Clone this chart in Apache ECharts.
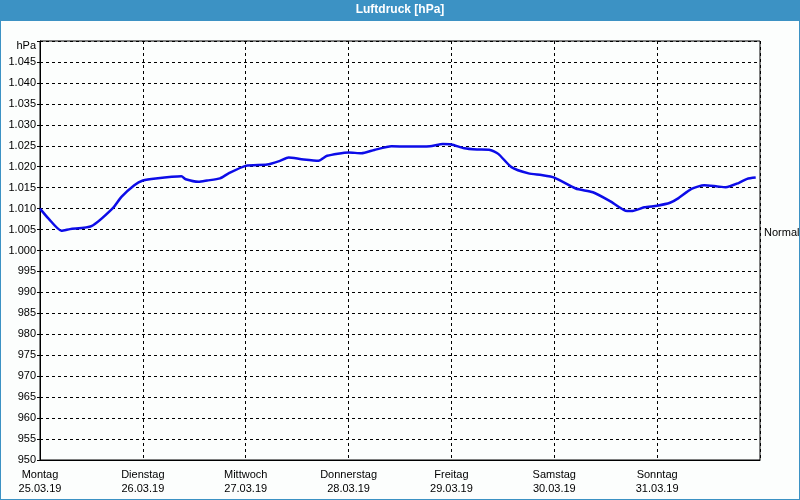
<!DOCTYPE html>
<html>
<head>
<meta charset="utf-8">
<script src="https://cdn.jsdelivr.net/npm/echarts@6/dist/echarts.min.js"></script>
<style>html,body{margin:0;padding:0;background:#fcfefd}#c{width:800px;height:500px}</style>
</head>
<body>
<div id="c"></div>
<script>
const chartTitle = 'Luftdruck [hPa]';
const dayNames = ['Montag','Dienstag','Mittwoch','Donnerstag','Freitag','Samstag','Sonntag'];
const dayDates = ['25.03.19','26.03.19','27.03.19','28.03.19','29.03.19','30.03.19','31.03.19'];
const hours = [0,2,5,7,12,17,19,22,24,27,33,34,37,39,42,44,48,53,56,58,61,65,67,72,75,78,82,86,91,94,96,99,102,105,107,110,114,117,120,125,129,133,137,138,141,144,147,149,152,155,158,160,163,165,167];
const pressure = [1010.0,1007.6,1004.7,1005.1,1005.8,1010.1,1012.8,1015.6,1016.7,1017.2,1017.7,1017.0,1016.4,1016.7,1017.2,1018.4,1020.2,1020.5,1021.4,1022.2,1021.8,1021.4,1022.6,1023.4,1023.2,1024.0,1024.9,1024.8,1024.9,1025.4,1025.3,1024.4,1024.1,1024.0,1023.0,1019.9,1018.4,1018.0,1017.4,1014.8,1013.9,1011.8,1009.4,1009.4,1010.3,1010.7,1011.4,1012.5,1014.7,1015.6,1015.3,1015.1,1016.1,1017.1,1017.4];
const normalValue = 1004.2;
const normalLabel = 'Normal';
const yMin = 950, yMax = 1050, yStep = 5;

const FONT = "'Liberation Sans', Arial, sans-serif";
const chart = echarts.init(document.getElementById('c'), null, {renderer: 'canvas'});
const data = hours.map((h, i) => [h, pressure[i]]);

chart.setOption({
  backgroundColor: '#fcfefd',
  animation: false,
  graphic: [
    {type: 'rect', left: 0, top: 0, shape: {x: 0, y: 0, width: 800, height: 21}, style: {fill: '#3c92c4'}, z: 0},
    {type: 'rect', shape: {x: 0, y: 0, width: 800, height: 500}, style: {fill: 'none', stroke: '#3c92c4', lineWidth: 2}, z: 0},
    {type: 'text', left: 'center', top: 4, style: {text: chartTitle, fill: '#ffffff', font: 'bold 12px ' + FONT}, z: 10}
  ],
  grid: {left: 40, right: 40, top: 41, bottom: 40, show: true, borderColor: '#000', borderWidth: 1, backgroundColor: 'transparent'},
  xAxis: {
    type: 'value', min: 0, max: 168, interval: 24,
    axisLine: {show: true, lineStyle: {color: '#000', width: 1}},
    axisTick: {show: false},
    splitLine: {show: true, lineStyle: {color: '#000', type: [3, 3], width: 1}},
    axisLabel: {
      show: true, margin: 8, color: '#000', fontFamily: FONT, fontSize: 11, lineHeight: 14,
      showMaxLabel: false,
      formatter: v => { const i = Math.round(v / 24); return i < dayNames.length ? dayNames[i] + '\n' + dayDates[i] : ''; }
    }
  },
  yAxis: [{
    type: 'value', min: yMin, max: yMax, interval: yStep,
    axisLine: {show: true, lineStyle: {color: '#000', width: 1}},
    axisTick: {show: true, length: 3, lineStyle: {color: '#000'}},
    splitLine: {show: true, lineStyle: {color: '#000', type: [3, 3], width: 1}},
    axisLabel: {
      margin: 4, color: '#000', fontFamily: FONT, fontSize: 11,
      rich: {u: {fontFamily: FONT, fontSize: 11, color: '#000', padding: [10, 0, 0, 0]}},
      formatter: v => {
        if (v >= yMax) return '{u|hPa}';
        if (v >= 1000) return '1.' + String(v).slice(1);
        return String(v);
      }
    }
  }],
  series: [{
    type: 'line', data: data, showSymbol: false, smooth: 0.2,
    lineStyle: {color: '#0c0ce8', width: 2.5}
  }, {
    type: 'line', data: [], silent: true,
    markLine: {
      silent: true, symbol: 'none',
      lineStyle: {color: 'rgba(0,0,0,0)', width: 1},
      label: {show: true, position: 'end', formatter: normalLabel, color: '#000', fontFamily: FONT, fontSize: 11, distance: 4},
      data: [{yAxis: normalValue}]
    }
  }]
});
</script>
</body>
</html>
